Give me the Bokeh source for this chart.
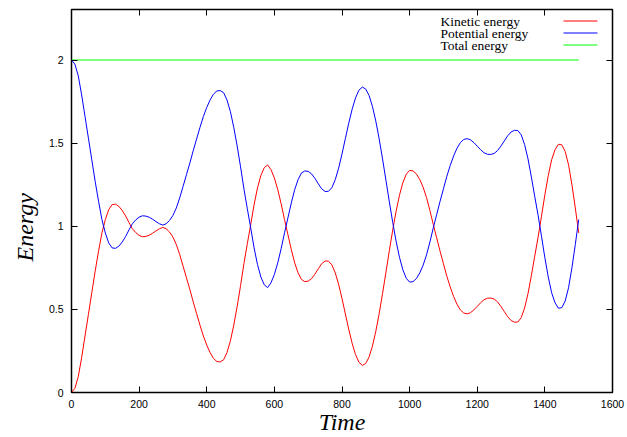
from bokeh.plotting import figure
from bokeh.models import (Range1d, LinearAxis, FixedTicker, Label, BoxAnnotation,
                          Title, CustomLabelingPolicy)
from bokeh.embed import file_html
from bokeh.resources import INLINE

# ---- data ----
time = list(range(0, 1501, 10))

kinetic = [
    0.0, 0.025, 0.095, 0.21, 0.34, 0.47, 0.60, 0.73, 0.85, 0.96,
    1.04, 1.10, 1.13, 1.133, 1.12, 1.095, 1.062, 1.022, 0.985, 0.962,
    0.945, 0.937, 0.939, 0.946, 0.958, 0.972, 0.985, 0.993, 0.985, 0.965,
    0.935, 0.89, 0.83, 0.76, 0.69, 0.62, 0.545, 0.475, 0.405, 0.34,
    0.285, 0.24, 0.205, 0.186, 0.184, 0.197, 0.241, 0.311, 0.406, 0.518,
    0.643, 0.776, 0.895, 1.01, 1.13, 1.23, 1.305, 1.352, 1.369, 1.34,
    1.29, 1.22, 1.135, 1.04, 0.95, 0.86, 0.78, 0.72, 0.68, 0.667,
    0.67, 0.685, 0.712, 0.745, 0.775, 0.791, 0.79, 0.768, 0.72, 0.651,
    0.565, 0.472, 0.38, 0.296, 0.228, 0.182, 0.163, 0.174, 0.213, 0.279,
    0.368, 0.475, 0.596, 0.724, 0.853, 0.977, 1.09, 1.187, 1.262, 1.313,
    1.336, 1.333, 1.315, 1.281, 1.234, 1.172, 1.095, 1.01, 0.93, 0.85,
    0.775, 0.70, 0.635, 0.578, 0.531, 0.497, 0.478, 0.473, 0.48, 0.497,
    0.518, 0.54, 0.558, 0.567, 0.568, 0.562, 0.545, 0.518, 0.487, 0.456,
    0.433, 0.423, 0.424, 0.45, 0.508, 0.594, 0.703, 0.82, 0.935, 1.06,
    1.19, 1.305, 1.40, 1.46, 1.493, 1.49, 1.45, 1.37, 1.25, 1.11,
    0.96,
]

potential = [
    2.0, 1.975, 1.905, 1.79, 1.66, 1.53, 1.40, 1.27, 1.15, 1.04,
    0.96, 0.90, 0.87, 0.867, 0.88, 0.905, 0.938, 0.978, 1.015, 1.038,
    1.055, 1.063, 1.061, 1.054, 1.042, 1.028, 1.015, 1.007, 1.015, 1.035,
    1.065, 1.11, 1.17, 1.24, 1.31, 1.38, 1.455, 1.525, 1.595, 1.66,
    1.715, 1.76, 1.795, 1.814, 1.816, 1.803, 1.759, 1.689, 1.594, 1.482,
    1.357, 1.224, 1.105, 0.99, 0.87, 0.77, 0.695, 0.648, 0.631, 0.66,
    0.71, 0.78, 0.865, 0.96, 1.05, 1.14, 1.22, 1.28, 1.32, 1.333,
    1.33, 1.315, 1.288, 1.255, 1.225, 1.209, 1.21, 1.232, 1.28, 1.349,
    1.435, 1.528, 1.62, 1.704, 1.772, 1.818, 1.837, 1.826, 1.787, 1.721,
    1.632, 1.525, 1.404, 1.276, 1.147, 1.023, 0.91, 0.813, 0.738, 0.687,
    0.664, 0.667, 0.685, 0.719, 0.766, 0.828, 0.905, 0.99, 1.07, 1.15,
    1.225, 1.30, 1.365, 1.422, 1.469, 1.503, 1.522, 1.527, 1.52, 1.503,
    1.482, 1.46, 1.442, 1.433, 1.432, 1.438, 1.455, 1.482, 1.513, 1.544,
    1.567, 1.577, 1.576, 1.55, 1.492, 1.406, 1.297, 1.18, 1.065, 0.94,
    0.81, 0.695, 0.60, 0.54, 0.507, 0.51, 0.55, 0.63, 0.75, 0.89,
    1.04,
]

total_time = [0, 1500]
total = [2.0, 2.0]

series_names = ["Kinetic energy", "Potential energy", "Total energy"]
series_colors = ["#ff0000", "#0000ff", "#00ff00"]

x_ticks = [0, 200, 400, 600, 800, 1000, 1200, 1400, 1600]
y_ticks = [0, 0.5, 1, 1.5, 2]
y_tick_labels = ["0", "0.5", "1", "1.5", "2"]

# ---- figure ----
p = figure(width=627, height=437, output_backend="svg", toolbar_location=None,
           x_range=Range1d(0, 1600), y_range=Range1d(0, 2.3038),
           min_border_left=71, min_border_right=15,
           min_border_top=9, min_border_bottom=45)
p.grid.visible = False
p.outline_line_color = "black"
p.outline_line_width = 1.5
p.background_fill_color = "white"
p.border_fill_color = "white"

TICK_FONT = "Liberation Sans"
SERIF = "Liberation Serif"

hide_all_labels = CustomLabelingPolicy(code="""
    for (const i of indices) { indices.unset(i) }
    return indices
""")


def style_axis(ax, show_labels):
    ax.axis_line_color = None
    ax.major_tick_in = 6
    ax.major_tick_out = 0
    ax.minor_tick_in = 0
    ax.minor_tick_out = 0
    ax.major_tick_line_color = "black"
    ax.major_tick_line_width = 1
    if show_labels:
        ax.major_label_text_font = TICK_FONT
        ax.major_label_text_font_size = "10.5px"
        ax.major_label_text_color = "black"
        ax.major_label_standoff = 7
    else:
        ax.major_label_text_font_size = "0px"
        ax.major_label_standoff = 0
        ax.major_label_policy = hide_all_labels


p.xaxis.ticker = FixedTicker(ticks=x_ticks)
p.yaxis.ticker = FixedTicker(ticks=y_ticks)
p.yaxis.major_label_overrides = {t: s for t, s in zip(y_ticks, y_tick_labels)}
for ax in p.xaxis:
    style_axis(ax, True)
for ax in p.yaxis:
    style_axis(ax, True)
    ax.major_label_standoff = 8

top = LinearAxis(ticker=FixedTicker(ticks=x_ticks))
style_axis(top, False)
p.add_layout(top, "above")
right = LinearAxis(ticker=FixedTicker(ticks=y_ticks))
style_axis(right, False)
p.add_layout(right, "right")

# ---- data lines ----
p.line(time, kinetic, line_color=series_colors[0], line_width=1)
p.line(time, potential, line_color=series_colors[1], line_width=1)
p.line(total_time, total, line_color=series_colors[2], line_width=1)

# ---- axis titles ----
p.add_layout(Title(text="Time", align="center", vertical_align="top",
                   standoff=-4, text_font=SERIF, text_font_style="italic",
                   text_font_size="24px", text_color="black"), "below")
p.add_layout(Title(text="Energy", align="left", vertical_align="bottom",
                   offset=131, standoff=16, text_font=SERIF,
                   text_font_style="italic", text_font_size="24px",
                   text_color="black"), "left")

# ---- key (text on the left, sample line on the right) ----
key_rows_y = [371.5, 359.5, 347.5]
for name, color, ky in zip(series_names, series_colors, key_rows_y):
    p.add_layout(Label(x=369, y=ky, x_units="screen", y_units="screen",
                       text=name, text_font=SERIF, text_font_size="13.5px",
                       text_align="left", text_baseline="middle",
                       text_color="black"))
    p.add_layout(BoxAnnotation(left=492, right=526, bottom=ky - 0.5, top=ky + 0.5,
                               left_units="screen", right_units="screen",
                               bottom_units="screen", top_units="screen",
                               fill_color=color, fill_alpha=1.0,
                               line_color=None))

open("out.html", "w").write(file_html(p, INLINE))
